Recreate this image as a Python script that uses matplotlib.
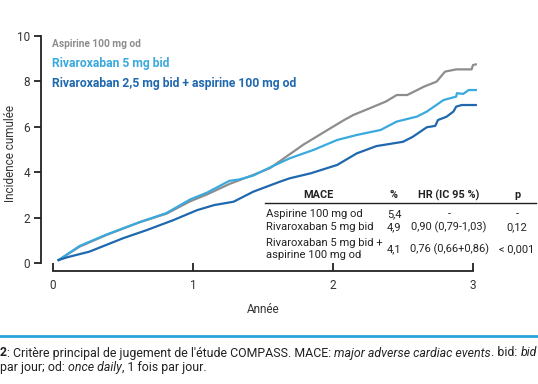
import matplotlib
matplotlib.use("Agg")
import matplotlib.pyplot as plt

plt.rcParams['font.family'] = ['Roboto', 'DejaVu Sans']

W, H = 538, 384

# courbes (annees, incidence cumulee %)
asp_x = [0.04, 0.19, 0.38, 0.62, 0.81, 0.98, 1.10, 1.26, 1.43, 1.55, 1.67, 1.79, 1.98, 2.08,
         2.145, 2.26, 2.38, 2.455, 2.53, 2.65, 2.74, 2.80, 2.88, 2.99, 3.00, 3.02]
asp_y = [0.13, 0.72, 1.23, 1.80, 2.17, 2.72, 3.02, 3.48, 3.88, 4.18, 4.70, 5.22, 5.93, 6.30,
         6.52, 6.81, 7.12, 7.40, 7.40, 7.77, 7.99, 8.43, 8.53, 8.53, 8.72, 8.75]

riva_x = [0.04, 0.19, 0.38, 0.62, 0.81, 0.98, 1.10, 1.26, 1.33, 1.43, 1.55, 1.69, 1.86, 2.03,
          2.17, 2.34, 2.455, 2.60, 2.67, 2.79, 2.88, 2.885, 2.93, 2.97, 3.02]
riva_y = [0.13, 0.75, 1.25, 1.80, 2.20, 2.80, 3.10, 3.62, 3.68, 3.85, 4.21, 4.61, 4.98, 5.42,
          5.64, 5.86, 6.23, 6.45, 6.67, 7.18, 7.33, 7.48, 7.45, 7.62, 7.62]

combo_x = [0.04, 0.10, 0.26, 0.50, 0.67, 0.86, 1.03, 1.15, 1.29, 1.43, 1.62, 1.69, 1.84, 2.03,
           2.17, 2.31, 2.50, 2.57, 2.67, 2.73, 2.75, 2.81, 2.86, 2.88, 2.92, 3.02]
combo_y = [0.13, 0.25, 0.50, 1.09, 1.45, 1.89, 2.33, 2.55, 2.70, 3.14, 3.58, 3.73, 3.95, 4.32,
           4.83, 5.15, 5.34, 5.56, 5.98, 6.04, 6.30, 6.44, 6.67, 6.89, 6.96, 6.96]

labels = ["Aspirine 100 mg od", "Rivaroxaban 5 mg bid",
          "Rivaroxaban 2,5 mg bid + aspirine 100 mg od"]
colors = ["#8d8d8d", "#3aa9dd", "#1f68ae"]

xticks = [0, 1, 2, 3]
yticks = [0, 2, 4, 6, 8, 10]

tab_head = ["MACE", "%", "HR (IC 95 %)", "p"]
tab_rows = [["Aspirine 100 mg od", "5,4", "-", "-"],
            ["Rivaroxaban 5 mg bid", "4,9", "0,90 (0,79-1,03)", "0,12"],
            ["Rivaroxaban 5 mg bid +\naspirine 100 mg od", "4,1", "0,76 (0,66+0,86)", "< 0,001"]]


def fx(px):
    return px / W


def fy(py):
    return 1 - py / H


fig = plt.figure(figsize=(W / 100, H / 100), dpi=100)
ax = fig.add_axes([fx(41), fy(271), fx(485) - fx(41), fy(36) - fy(271)])

for xs, ys, c in zip([asp_x, riva_x, combo_x], [asp_y, riva_y, combo_y], colors):
    ax.plot(xs, ys, color=c, lw=1.6, solid_joinstyle='round')

ax.set_xlim(-12 / 140, 3 + 12 / 140)
ax.set_ylim(-8 / 22.7, 10)
for s in ['top', 'right']:
    ax.spines[s].set_visible(False)
ax.spines['left'].set_bounds(0, 10)
ax.spines['bottom'].set_bounds(0, 3)
for s in ['left', 'bottom']:
    ax.spines[s].set_linewidth(1.3)
    ax.spines[s].set_color('#222222')
ax.set_xticks(xticks)
ax.set_yticks(yticks)
ax.tick_params(axis='y', direction='out', length=5, width=1.3, color='#222222',
               labelsize=8.5, labelcolor='#333333', pad=3)
ax.tick_params(axis='x', direction='in', length=6, width=1.3, color='#222222',
               labelsize=8.5, labelcolor='#333333', pad=6)
ax.set_xlabel("Année", fontsize=8.5, color='#333333', labelpad=8)
ax.set_ylabel("Incidence cumulée", fontsize=8.5, color='#333333', labelpad=0)

# legende en texte colore
fig.text(fx(52), fy(44), labels[0], color=colors[0], fontsize=7.3, fontweight='bold', va='center')
fig.text(fx(52), fy(64), labels[1], color=colors[1], fontsize=8.7, fontweight='bold', va='center')
fig.text(fx(52), fy(84), labels[2], color=colors[2], fontsize=8.7, fontweight='bold', va='center')

# tableau
tc = '#222222'
cols = [(266, 'left'), (394, 'center'), (449, 'center'), (517, 'center')]
fig.text(fx(318), fy(195), tab_head[0], fontsize=7.8, fontweight='bold', ha='center', va='center', color=tc)
for (cx, ha), h in zip(cols[1:], tab_head[1:]):
    fig.text(fx(cx), fy(195), h, fontsize=7.8, fontweight='bold', ha='center', va='center', color=tc)
fig.add_artist(plt.Line2D([fx(265), fx(536)], [fy(203), fy(203)], transform=fig.transFigure,
                          color='#222222', lw=1))
row_base = [217, 230, 252]
for ry, row in zip(row_base, tab_rows):
    for i, ((cx, ha), val) in enumerate(zip(cols, row)):
        if i == 0 and "\n" in val:
            l1, l2 = val.split("\n")
            fig.text(fx(cx), fy(ry - 6.5), l1, fontsize=8.1, ha=ha, va='baseline', color=tc)
            fig.text(fx(cx), fy(ry + 6.5), l2, fontsize=8.1, ha=ha, va='baseline', color=tc)
        else:
            fig.text(fx(cx), fy(ry), val, fontsize=8.1 if i == 0 else 7.9, ha=ha,
                     va='baseline', color=tc)

# trait bleu et legende de figure
fig.add_artist(plt.Line2D([0, 1], [fy(336), fy(336)], transform=fig.transFigure,
                          color='#2aa3da', lw=2))

fig.canvas.draw()
rend = fig.canvas.get_renderer()


def runs(px, py, parts):
    x = fx(px)
    for txt, st, wt in parts:
        t = fig.text(x, fy(py), txt, fontsize=8.9, style=st, fontweight=wt,
                     va='center', ha='left', color='#222222')
        bb = t.get_window_extent(rend)
        x += bb.width / W


runs(0, 353, [("2", 'normal', 'bold'),
              (": Critère principal de jugement de l'étude COMPASS. MACE: ", 'normal', 'normal'),
              ("major adverse cardiac events", 'italic', 'normal'),
              (". bid: ", 'normal', 'normal'),
              ("bid", 'italic', 'normal')])
runs(0, 367, [("par jour; od: ", 'normal', 'normal'),
              ("once daily", 'italic', 'normal'),
              (", 1 fois par jour.", 'normal', 'normal')])

fig.savefig("out.png", dpi=100)
